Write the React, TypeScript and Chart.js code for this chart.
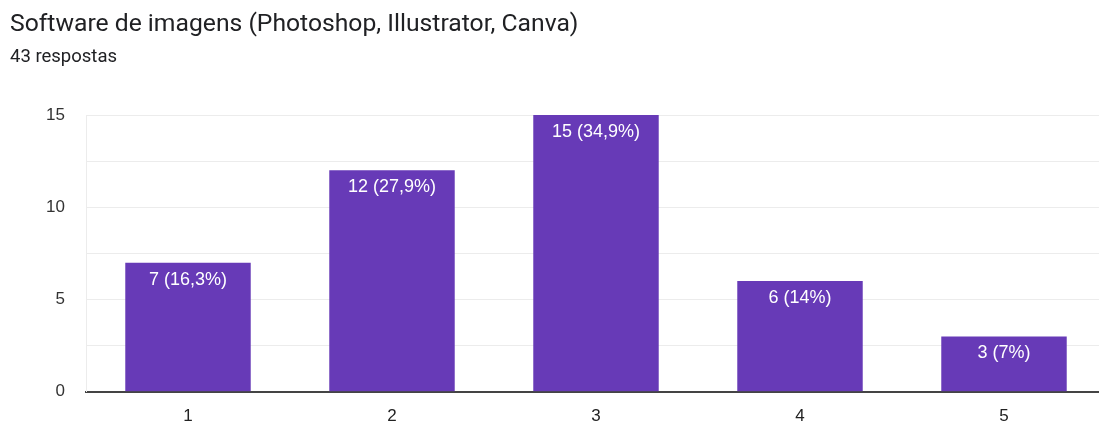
import React, { useEffect, useRef } from "react";
import { Chart, registerables } from "chart.js";

Chart.register(...registerables);

const categories = ["1", "2", "3", "4", "5"];
const counts = [7, 12, 15, 6, 3];
const valueLabels = ["7 (16,3%)", "12 (27,9%)", "15 (34,9%)", "6 (14%)", "3 (7%)"];
const titleText = "Software de imagens (Photoshop, Illustrator, Canva)";
const subtitleText = "43 respostas";

const barLabelPlugin = {
  id: "barLabels",
  afterDatasetsDraw(chart: any) {
    const ctx = chart.ctx;
    const meta = chart.getDatasetMeta(0);
    ctx.save();
    ctx.fillStyle = "#ffffff";
    ctx.font = "18px 'Liberation Sans', Arial, sans-serif";
    ctx.textAlign = "center";
    ctx.textBaseline = "alphabetic";
    meta.data.forEach((bar: any, i: number) => {
      ctx.fillText(valueLabels[i], bar.x, bar.y + 22);
    });
    ctx.restore();
  },
};

export default function App() {
  const ref = useRef<HTMLCanvasElement | null>(null);
  useEffect(() => {
    document.body.style.margin = "0";
    const chart = new Chart(ref.current!, {
      type: "bar",
      data: {
        labels: categories,
        datasets: [
          {
            data: counts,
            backgroundColor: "#673ab7",
            borderWidth: 0,
            categoryPercentage: 0.615,
            barPercentage: 1,
          },
        ],
      },
      options: {
        animation: false,
        responsive: false,
        maintainAspectRatio: false,
        layout: { padding: { top: 115, right: 4, left: 0, bottom: 0 } },
        plugins: { legend: { display: false }, tooltip: { enabled: false } },
        scales: {
          x: {
            grid: { display: false, drawTicks: false },
            border: { color: "#444444", width: 2 },
            ticks: {
              color: "#222222",
              font: { family: "'Liberation Sans', Arial, sans-serif", size: 17 },
              padding: 14,
            },
            afterFit(scale: any) {
              scale.height = 30;
            },
          },
          y: {
            min: 0,
            max: 15,
            border: { color: "#ececec", width: 1 },
            grid: {
              drawTicks: false,
              color: (c: any) => (c.tick && c.tick.value === 0 ? "#444444" : "#ececec"),
            },
            ticks: {
              stepSize: 2.5,
              color: "#333333",
              font: { family: "'Liberation Sans', Arial, sans-serif", size: 17 },
              padding: 21,
              callback: (v: any) => (Number(v) % 5 === 0 ? String(v) : ""),
            },
            afterFit(scale: any) {
              scale.width = 86;
            },
          },
        },
      },
      plugins: [barLabelPlugin],
    });
    return () => chart.destroy();
  }, []);
  return (
    <div style={{ position: "relative", width: 1099, height: 423, background: "#fff", overflow: "hidden" }}>
      <canvas ref={ref} width={1110} height={423} style={{ position: "absolute", left: 0, top: 0 }} />
      <div
        style={{
          position: "absolute",
          left: 10,
          top: 11,
          fontFamily: "Roboto",
          fontSize: 24.7,
          lineHeight: 1,
          color: "#202124",
          whiteSpace: "nowrap",
        }}
      >
        {titleText}
      </div>
      <div
        style={{
          position: "absolute",
          left: 10,
          top: 47,
          fontFamily: "Roboto",
          fontSize: 18.5,
          lineHeight: 1,
          color: "#202124",
          whiteSpace: "nowrap",
        }}
      >
        {subtitleText}
      </div>
    </div>
  );
}
